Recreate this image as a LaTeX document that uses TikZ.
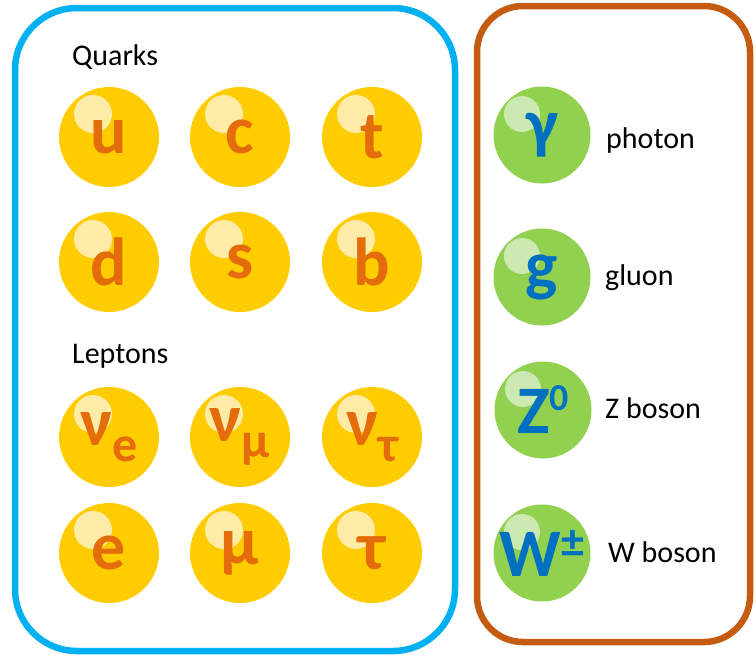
\documentclass[tikz,border=0pt]{standalone}
\usepackage{fontspec}
\setmainfont{Carlito}
\usepackage{xcolor}
\usetikzlibrary{positioning}
\definecolor{fermionframe}{HTML}{00B0F0}
\definecolor{bosonframe}{HTML}{C55A11}
\definecolor{quarkyellow}{HTML}{FFCC00}
\definecolor{quarkshine}{HTML}{FDEBA6}
\definecolor{quarkletter}{HTML}{E46C0A}
\definecolor{bosongreen}{HTML}{92D050}
\definecolor{bosonshine}{HTML}{CBE9B0}
\definecolor{bosonletter}{HTML}{0070C0}

\newcommand{\lowsub}[1]{\raisebox{-16pt}{\fontsize{50}{50}\selectfont #1}}
\newcommand{\highsup}[3]{\raisebox{#1}{\fontsize{#2}{#2}\selectfont #3}}

\begin{document}
\begin{tikzpicture}[
    x=1pt, y=-1pt,
    frame/.style={rectangle, line width=6.5pt},
    particle/.style={circle, minimum size=100pt, inner sep=0pt, font=\fontsize{68}{68}\bfseries},
    fermion/.style={particle, fill=quarkyellow, text=quarkletter,
        path picture={\fill[quarkshine] ([xshift=-16pt,yshift=23pt]path picture bounding box.center) circle (19pt);}},
    boson/.style={particle, minimum size=97pt, fill=bosongreen, text=bosonletter,
        path picture={\fill[bosonshine] ([xshift=-20pt,yshift=21pt]path picture bounding box.center) circle (18pt);}},
    caption/.style={anchor=base west, inner sep=0pt, font=\fontsize{30}{30}\selectfont},
]
\useasboundingbox (0,0) rectangle (754,656);

% Frames
\draw[frame, draw=fermionframe, rounded corners=62pt] (15,8) rectangle (455,651);
\draw[frame, draw=bosonframe, rounded corners=46pt] (477,6) rectangle (750,642);

% Quarks
\node[caption] (quarks) at (72,65) {Quarks};
\node[fermion] (up) at (109,137) {u};
\node[fermion] (charm) at (240,137) {c};
\node[fermion] (top) at (372,137) {t};
\node[fermion] (down) at (109,262) {d};
\node[fermion] (strange) at (240,262) {s};
\node[fermion] (bottom) at (372,262) {b};

% Leptons
\node[caption] (leptons) at (72,363) {Leptons};
\node[fermion] (nue) at (109,437) {ν\lowsub{e}};
\node[fermion] (numu) at (240,437) {ν\lowsub{μ}};
\node[fermion] (nutau) at (372,437) {ν\lowsub{τ}};
\node[fermion] (electron) at (109,553) {e};
\node[fermion] (muon) at (240,553) {μ};
\node[fermion] (tau) at (372,553) {τ};

% Bosons
\node[boson] (photon) at (542,135) {γ};
\node[caption] (photonlabel) at (606,148) {photon};
\node[boson] (gluon) at (542,277) {g};
\node[caption] (gluonlabel) at (605,285) {gluon};
\node[boson] (zboson) at (543,410) {Z\highsup{23pt}{38}{0}};
\node[caption] (zlabel) at (605,418) {Z boson};
\node[boson] (wboson) at (542,553) {W\highsup{19pt}{46}{±}};
\node[caption] (wlabel) at (608,562) {W boson};

\end{tikzpicture}
\end{document}
